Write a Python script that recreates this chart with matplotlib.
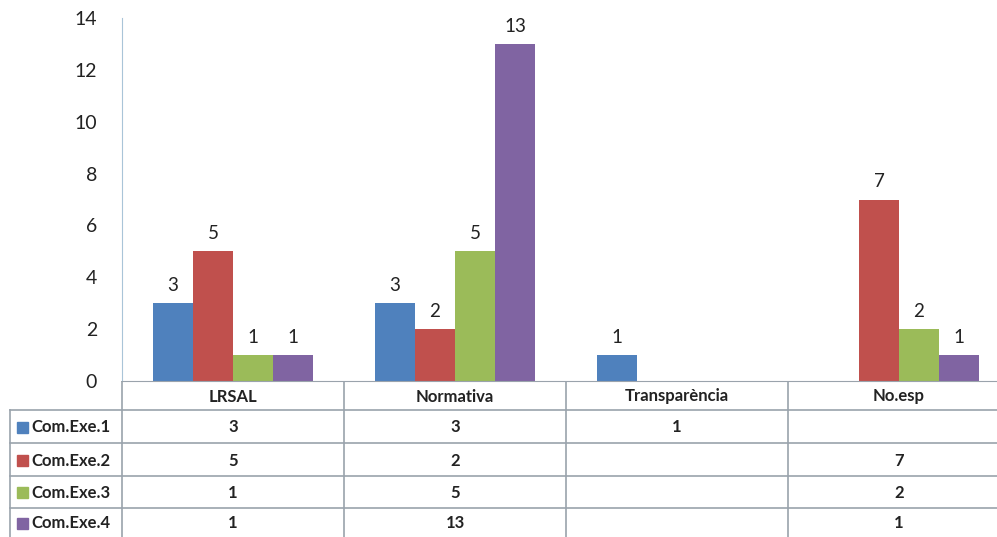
import numpy as np
import matplotlib.pyplot as plt
from matplotlib.patches import Rectangle

plt.rcParams['font.family'] = ['Lato', 'DejaVu Sans']

categories = ['LRSAL', 'Normativa', 'Transparència', 'No.esp']
series = ['Com.Exe.1', 'Com.Exe.2', 'Com.Exe.3', 'Com.Exe.4']
exe1 = [3, 3, 1, None]
exe2 = [5, 2, None, 7]
exe3 = [1, 5, None, 2]
exe4 = [1, 13, None, 1]
values = [exe1, exe2, exe3, exe4]
colors = ['#4F81BD', '#C0504D', '#9BBB59', '#8064A2']
yticks = [0, 2, 4, 6, 8, 10, 12, 14]

W, H = 997, 537
fig = plt.figure(figsize=(W / 100, H / 100), dpi=100)

# plot area in pixel terms (runs a little past the right edge of the image)
x0, x1 = 122, 1010
ytop, ybot = 18, 381
ax = fig.add_axes([x0 / W, (H - ybot) / H, (x1 - x0) / W, (ybot - ytop) / H])

grid_col = '#9AA3AC'
n = len(categories)
bw = 0.18
x = np.arange(n)
for i, (vals, c) in enumerate(zip(values, colors)):
    pos = x + (i - 1.5) * bw
    for p, v in zip(pos, vals):
        if v is None:
            continue
        ax.bar(p, v, width=bw, color=c, edgecolor='none')
        ax.text(p, v + 0.35, str(v), ha='center', va='bottom', fontsize=13.5, color='#222222')

ax.set_xlim(-0.5, n - 0.5)
ax.set_ylim(0, 14)
ax.set_yticks(yticks)
ax.set_xticks([])
ax.tick_params(axis='y', length=0, pad=18, labelsize=14, labelcolor='#222222')
for s in ['top', 'right']:
    ax.spines[s].set_visible(False)
ax.spines['left'].set_color('#A9C4D8')
ax.spines['bottom'].set_color(grid_col)

# data table below
tab = fig.add_axes([0, 0, 1, (H - ybot) / H])
tab.set_xlim(0, W)
tab.set_ylim(H, ybot)
tab.axis('off')

col_edges = [x0 + k * (x1 - x0) / n for k in range(n + 1)]
row_edges = [ybot, 410, 443, 476, 508, H]
left = 10

def hline(y, xa, xb):
    tab.plot([xa, xb], [y, y], color=grid_col, lw=1.2)

def vline(xx, ya, yb):
    tab.plot([xx, xx], [ya, yb], color=grid_col, lw=1.2)

for j, y in enumerate(row_edges[:-1]):
    hline(y, x0 if j == 0 else left, W)
vline(left, row_edges[1], H)
for xe in col_edges[:-1]:
    vline(xe, ybot, H)

for k, cat in enumerate(categories):
    cx = (col_edges[k] + col_edges[k + 1]) / 2
    tab.text(cx, (row_edges[0] + row_edges[1]) / 2 + 1, cat, ha='center', va='center',
             fontsize=12, fontweight='bold', color='#222222')

for i, (name, vals, c) in enumerate(zip(series, values, colors)):
    cy = (row_edges[i + 1] + row_edges[i + 2]) / 2
    tab.add_patch(Rectangle((17, cy - 5), 11, 11, color=c))
    tab.text(31, cy + 1, name, ha='left', va='center', fontsize=12,
             fontweight='bold', color='#222222')
    for k, v in enumerate(vals):
        if v is None:
            continue
        cx = (col_edges[k] + col_edges[k + 1]) / 2
        tab.text(cx, cy + 1, str(v), ha='center', va='center', fontsize=12,
                 fontweight='bold', color='#222222')

fig.savefig('out.png', dpi=100)
